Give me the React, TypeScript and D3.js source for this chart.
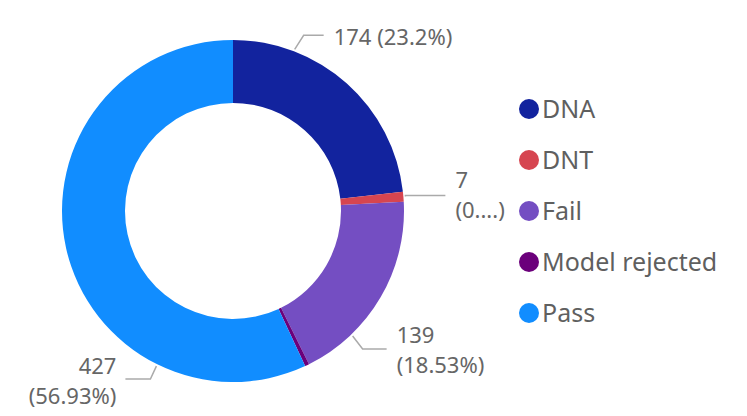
import React, { useRef, useEffect } from 'react';
import { select, pie, arc, scaleOrdinal } from 'd3';

const categories = ['DNA', 'DNT', 'Fail', 'Model rejected', 'Pass'];
const counts = [174, 7, 139, 3, 427];
const pctLabels = ['23.2%', '0....', '18.53%', '0.4%', '56.93%'];
const colors = ['#12239E', '#D64550', '#744EC2', '#6B007B', '#118DFF'];

const FONT = '"Segoe UI", "Noto Sans", sans-serif';

function DonutChart() {
  const svgRef = useRef(null);

  useEffect(() => {
    const svg = select(svgRef.current);
    svg.selectAll('*').remove();

    const width = 747, height = 416;
    const cx = 233, cy = 211;
    const outerR = 171, innerR = 108;

    const data = categories.map((name, i) => ({ name, value: counts[i], pct: pctLabels[i] }));

    const color = scaleOrdinal().domain(categories).range(colors);

    const arcs = pie().sort(null).value(d => d.value)(data);
    const arcGen = arc().innerRadius(innerR).outerRadius(outerR);

    const g = svg.append('g').attr('transform', `translate(${cx},${cy})`);

    g.selectAll('path.slice')
      .data(arcs)
      .join('path')
      .attr('class', 'slice')
      .attr('d', arcGen)
      .attr('fill', d => color(d.data.name));

    // leader lines + labels (Model rejected gets none)
    // t = where in the slice the leader starts, dx/dy = elbow, run = horizontal part
    const labelLayout = {
      'DNA': { t: 0.25, dx: 9, dy: -14, run: 20, base: 10, two: false },
      'DNT': { t: 0.5, dx: 0, dy: -1, run: 40, base: -8, two: true },
      'Fail': { t: 0.74, dx: 10, dy: 13, run: 24, base: -6, two: true },
      'Pass': { t: 0.25, dx: -6, dy: 13, run: -25, base: -5, two: true },
    };

    arcs.forEach(a => {
      const lay = labelLayout[a.data.name];
      if (!lay) return;
      const ang = a.startAngle + (a.endAngle - a.startAngle) * lay.t;
      const x0 = Math.sin(ang) * (outerR + 2);
      const y0 = -Math.cos(ang) * (outerR + 2);
      const x1 = x0 + lay.dx, y1 = y0 + lay.dy;
      const x2 = x1 + lay.run;
      g.append('polyline')
        .attr('points', `${x0},${y0} ${x1},${y1} ${x2},${y1}`)
        .attr('fill', 'none')
        .attr('stroke', '#aaaaaa')
        .attr('stroke-width', 1.5);
      const right = lay.run > 0;
      const tx = x2 + (right ? 10 : -9);
      const lines = lay.two
        ? [`${a.data.value}`, `(${a.data.pct})`]
        : [`${a.data.value} (${a.data.pct})`];
      const text = g.append('text')
        .attr('x', tx)
        .attr('y', y1 + lay.base)
        .attr('text-anchor', right ? 'start' : 'end')
        .attr('font-family', FONT)
        .attr('font-size', 22)
        .attr('fill', '#666666');
      lines.forEach((line, i) => {
        text.append('tspan')
          .attr('x', tx)
          .attr('dy', i === 0 ? 0 : 30)
          .text(line);
      });
    });

    // legend
    const legend = svg.append('g').attr('transform', 'translate(529,109)');
    const rows = legend.selectAll('g')
      .data(categories)
      .join('g')
      .attr('transform', (d, i) => `translate(0,${i * 51})`);
    rows.append('circle')
      .attr('r', 10)
      .attr('fill', d => color(d));
    rows.append('text')
      .attr('x', 13)
      .attr('y', 9)
      .attr('font-family', FONT)
      .attr('font-size', 25)
      .attr('fill', '#5f5f5f')
      .text(d => d);

    svg.attr('width', width).attr('height', height);
  }, []);

  return <svg ref={svgRef} style={{ position: 'absolute', left: 0, top: 0 }}></svg>;
}

export default function App() {
  return <DonutChart />;
}
